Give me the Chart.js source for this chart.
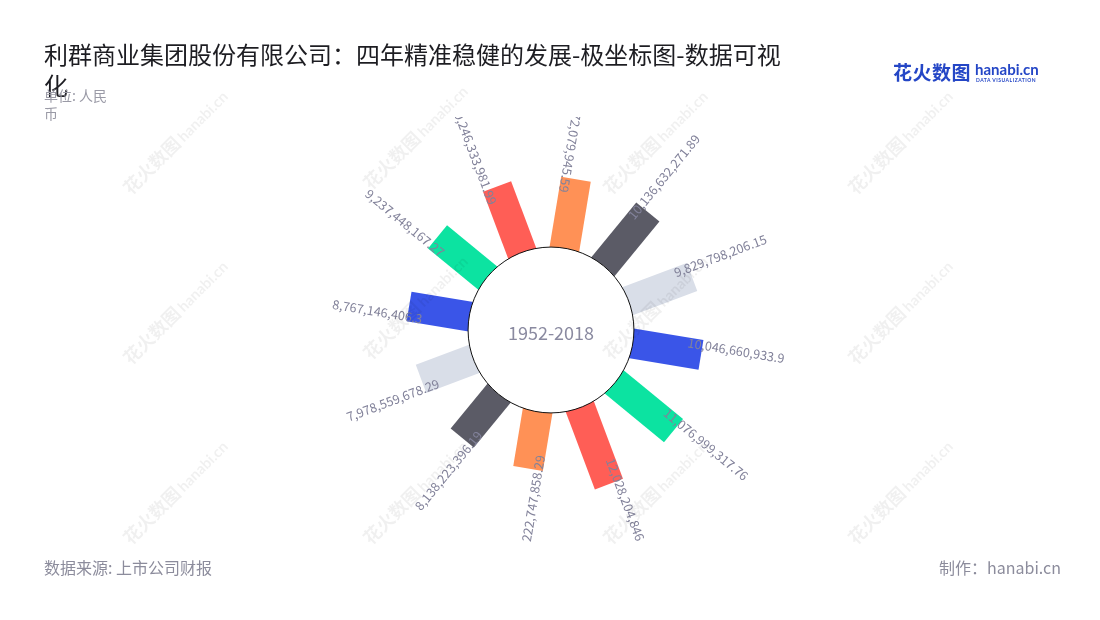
<!DOCTYPE html>
<html>
<head>
<meta charset="utf-8">
<script src="https://cdn.jsdelivr.net/npm/chart.js@4.4.0/dist/chart.umd.min.js"></script>
<style>
    body { margin: 0; width: 1100px; height: 620px; background: #fff; overflow: hidden; position: relative; font-family: "Noto Sans CJK SC", "Noto Sans", sans-serif; }
    #chartBox { position: absolute; left: 0; top: 0; width: 1100px; height: 620px; }
    .title { position: absolute; left: 44px; top: 38px; width: 748px; font-size: 24px; line-height: 31px; color: #1d1d22; }
    .unit { position: absolute; left: 44px; top: 86px; width: 70px; font-size: 14px; line-height: 18px; color: #9a9aa6; }
    .source { position: absolute; left: 44px; top: 555px; font-size: 16px; color: #8c8c9c; }
    .maker { position: absolute; right: 39px; top: 555px; font-size: 16px; color: #8c8c9c; }
    .logo { position: absolute; left: 893px; top: 58px; color: #2446c6; white-space: nowrap; }
    .logo .cn { position: absolute; left: 0; top: 0; font-size: 19px; font-weight: bold; letter-spacing: 0.5px; }
    .logo .en { position: absolute; left: 82px; top: 2px; font-size: 15px; font-weight: bold; font-family: "Lato", sans-serif; }
    .logo .sub { position: absolute; left: 83px; top: 19px; font-size: 10px; font-weight: bold; letter-spacing: 1px; transform: scale(0.5); transform-origin: 0 0; font-family: "Lato", sans-serif; }
    .wm { position: absolute; color: rgba(0, 0, 0, 0.06); font-weight: bold; white-space: nowrap; transform: rotate(-45deg); transform-origin: 50% 50%; pointer-events: none; }
    .wm span { font-size: 18px; }
    .wm i { font-style: normal; font-size: 15px; font-family: "Lato", sans-serif; margin-left: 3px; }
</style>
</head>
<body>
<div id="chartBox"><canvas id="chart" width="1100" height="620"></canvas></div>
<div class="title">利群商业集团股份有限公司：四年精准稳健的发展-极坐标图-数据可视化</div>
<div class="unit">单位: 人民币</div>
<div class="source">数据来源: 上市公司财报</div>
<div class="maker">制作：hanabi.cn</div>
<div class="logo"><span class="cn">花火数图</span><span class="en">hanabi.cn</span><span class="sub">DATA VISUALIZATION</span></div>
<div id="marks"></div>

<script>
var period = '1952-2018';

var categories = ['1', '2', '3', '4', '5', '6', '7', '8', '9', '10', '11', '12'];

var values = [
    10172079945.59,
    10136632271.89,
    9829798206.15,
    10046660933.9,
    11076999317.76,
    12028204846,
    8222747858.29,
    8138223396.19,
    7978559678.29,
    8767146406.3,
    9237448167.27,
    10246333981.99
];

var color = [
    '#ff9156',
    '#5b5b66',
    '#d9dee8',
    '#3a55e8',
    '#0ce3a1',
    '#ff5e56'
];

var fmt = new Intl.NumberFormat('en-US', { maximumFractionDigits: 2 });

// faint watermarks
var marks = [[180, 140], [420, 135], [660, 140], [905, 140], [180, 310], [420, 305], [660, 305], [905, 310], [180, 490], [420, 490], [660, 490], [905, 490]];
marks.forEach(function (p) {
    var d = document.createElement('div');
    d.className = 'wm';
    d.innerHTML = '<span>花火数图</span><i>hanabi.cn</i>';
    d.style.left = (p[0] - 75) + 'px';
    d.style.top = (p[1] - 12) + 'px';
    document.getElementById('marks').appendChild(d);
});

var radialBars = {
    id: 'radialBars',
    afterDatasetsDraw: function (chart) {
        var scale = chart.scales.r;
        var ctx = chart.ctx;
        var cx = scale.xCenter;
        var cy = scale.yCenter;
        var base = scale.getDistanceFromCenterForValue(scale.min);
        var barWidth = 30;
        var n = values.length;

        // bars
        values.forEach(function (v, i) {
            var a = scale.getIndexAngle(i) - Math.PI / 2;
            var r = scale.getDistanceFromCenterForValue(v);
            ctx.save();
            ctx.translate(cx, cy);
            ctx.rotate(a);
            ctx.fillStyle = color[i % color.length];
            ctx.fillRect(base, -barWidth / 2, r - base, barWidth);
            ctx.restore();
        });

        // centre hole
        var hole = scale.drawingArea * 0.393;
        ctx.save();
        ctx.beginPath();
        ctx.arc(cx, cy, hole, 0, Math.PI * 2);
        ctx.fillStyle = '#fff';
        ctx.fill();
        ctx.lineWidth = 1;
        ctx.strokeStyle = '#111';
        ctx.stroke();
        ctx.fillStyle = '#8a8aa0';
        ctx.font = '18px "Noto Sans CJK SC"';
        ctx.textAlign = 'center';
        ctx.textBaseline = 'middle';
        ctx.fillText(period, cx, cy + 3);
        ctx.restore();

        // value labels, clipped to the chart area
        var area = chart.chartArea;
        ctx.save();
        ctx.beginPath();
        ctx.rect(area.left, area.top - 2, area.right - area.left, area.bottom - area.top + 3);
        ctx.clip();
        ctx.font = '12.6px "Noto Sans CJK SC"';
        ctx.fillStyle = '#82829a';
        ctx.textBaseline = 'middle';
        values.forEach(function (v, i) {
            var a = scale.getIndexAngle(i) - Math.PI / 2;
            var end = scale.getDistanceFromCenterForValue(v);
            var r = end - 15 - 0.8 * Math.max(0, end - 154);
            var deg = i * 360 / n;
            var outward = deg > 0 && deg < 180;
            var x = cx + Math.cos(a) * r + Math.sin(a) * 10;
            var y = cy + Math.sin(a) * r - Math.cos(a) * 10;
            ctx.save();
            ctx.translate(x, y);
            if (outward) {
                ctx.rotate(a);
                ctx.textAlign = 'left';
            } else {
                ctx.rotate(a + Math.PI);
                ctx.textAlign = 'right';
            }
            ctx.fillText(fmt.format(v), 0, 0);
            ctx.restore();
        });
        ctx.restore();
    }
};

new Chart(document.getElementById('chart'), {
    type: 'polarArea',
    data: {
        labels: categories,
        datasets: [{
            data: values,
            backgroundColor: 'rgba(0,0,0,0)',
            borderWidth: 0
        }]
    },
    options: {
        responsive: false,
        animation: false,
        layout: { padding: { top: 119, bottom: 79, left: 2, right: 0 } },
        plugins: {
            legend: { display: false },
            tooltip: { enabled: false }
        },
        scales: {
            r: {
                min: -13.8e9,
                max: 19.3e9,
                startAngle: 9.4,
                ticks: { display: false },
                grid: { display: false },
                angleLines: { display: false },
                pointLabels: { display: false }
            }
        }
    },
    plugins: [radialBars]
});
</script>
</body>
</html>
